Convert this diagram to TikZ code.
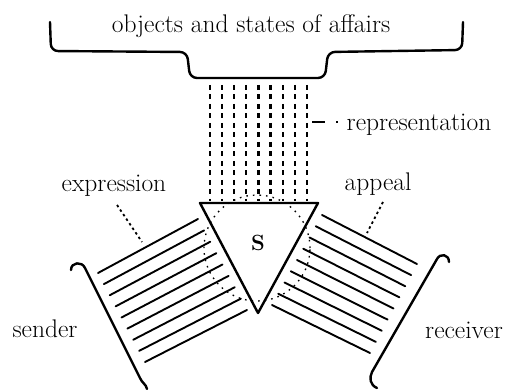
\documentclass[tikz,border=0pt]{standalone}
\usepackage{fontspec}
\begin{document}
\begin{tikzpicture}[x=1pt,y=-1pt, line cap=round, line join=round,
  heavy/.style={line width=2.4pt},
  hatchline/.style={line width=1.9pt},
  repline/.style={line width=2.2pt, line cap=butt, dash pattern=on 5pt off 4.5pt},
  leader/.style={line width=1.8pt, line cap=butt, dash pattern=on 2.5pt off 3pt},
  circline/.style={line width=1.3pt, line cap=butt, dash pattern=on 1.6pt off 5pt},
  lbl/.style={font=\fontsize{25.5}{30}\selectfont, anchor=base, inner sep=0pt}]
\useasboundingbox (0,0) rectangle (506,390);
% top bracket
\draw[heavy, rounded corners=7pt] (50,22) -- (51,51) -- (187,52) -- (190,78) -- (325,78) -- (328,52) -- (462,50) -- (463,22);
\node[lbl] (title) at (251,33) {objects and states of affairs};
% representation rays
\foreach \i in {0,...,8} {
  \draw[repline] ({210+12.1*\i},85) -- ({210+12.1*\i},201);
}
% dotted circle
\coordinate (ctr) at (257,248);
\draw[circline] (ctr) circle[radius=53pt];
% triangle
\coordinate (tl) at (200,203);
\coordinate (tr) at (318,203);
\coordinate (ap) at (258,313);
\draw[heavy] (tl) -- (tr) -- (ap) -- cycle;
\node[font=\bfseries\fontsize{22}{24}\selectfont, inner sep=0pt] (S) at (258,243) {S};
% hatched blocks
\foreach \i in {0,...,8} {
  \pgfmathsetmacro\t{\i/8}
  \draw[hatchline] ({98+47*\t},{273+89*\t}) -- ({198+49*\t},{219+91*\t});
  \draw[hatchline] ({322-50*\t},{215+90*\t}) -- ({417-47*\t},{264+89*\t});
}
% brackets
\draw[heavy] (71,270) .. controls (71,262) and (82,261) .. (85,268) -- (140,378) .. controls (142,383) and (146,384) .. (147,389);
\draw[heavy] (449,262) .. controls (449,254) and (440,253) .. (437,259) -- (372,372) .. controls (369,378) and (370,385) .. (377,388);
% labels
\node[lbl] (repr) at (419,131) {representation};
\node[lbl] (expr) at (114,192) {expression};
\node[lbl] (appeal) at (378,191) {appeal};
\node[lbl] (sender) at (45,337) {sender};
\node[lbl] (receiver) at (464,338) {receiver};
% leaders
\coordinate (r1) at (312,122);
\coordinate (r2) at (338,122);
\draw[line width=1.6pt, line cap=butt, dash pattern=on 13pt off 11pt on 1.5pt off 5pt] (r1) -- (r2);
\coordinate (e1) at (117,205);
\coordinate (e2) at (142,242);
\draw[leader] (e1) -- (e2);
\coordinate (a1) at (383,202);
\coordinate (a2) at (367,233);
\draw[leader] (a1) -- (a2);
\end{tikzpicture}
\end{document}
